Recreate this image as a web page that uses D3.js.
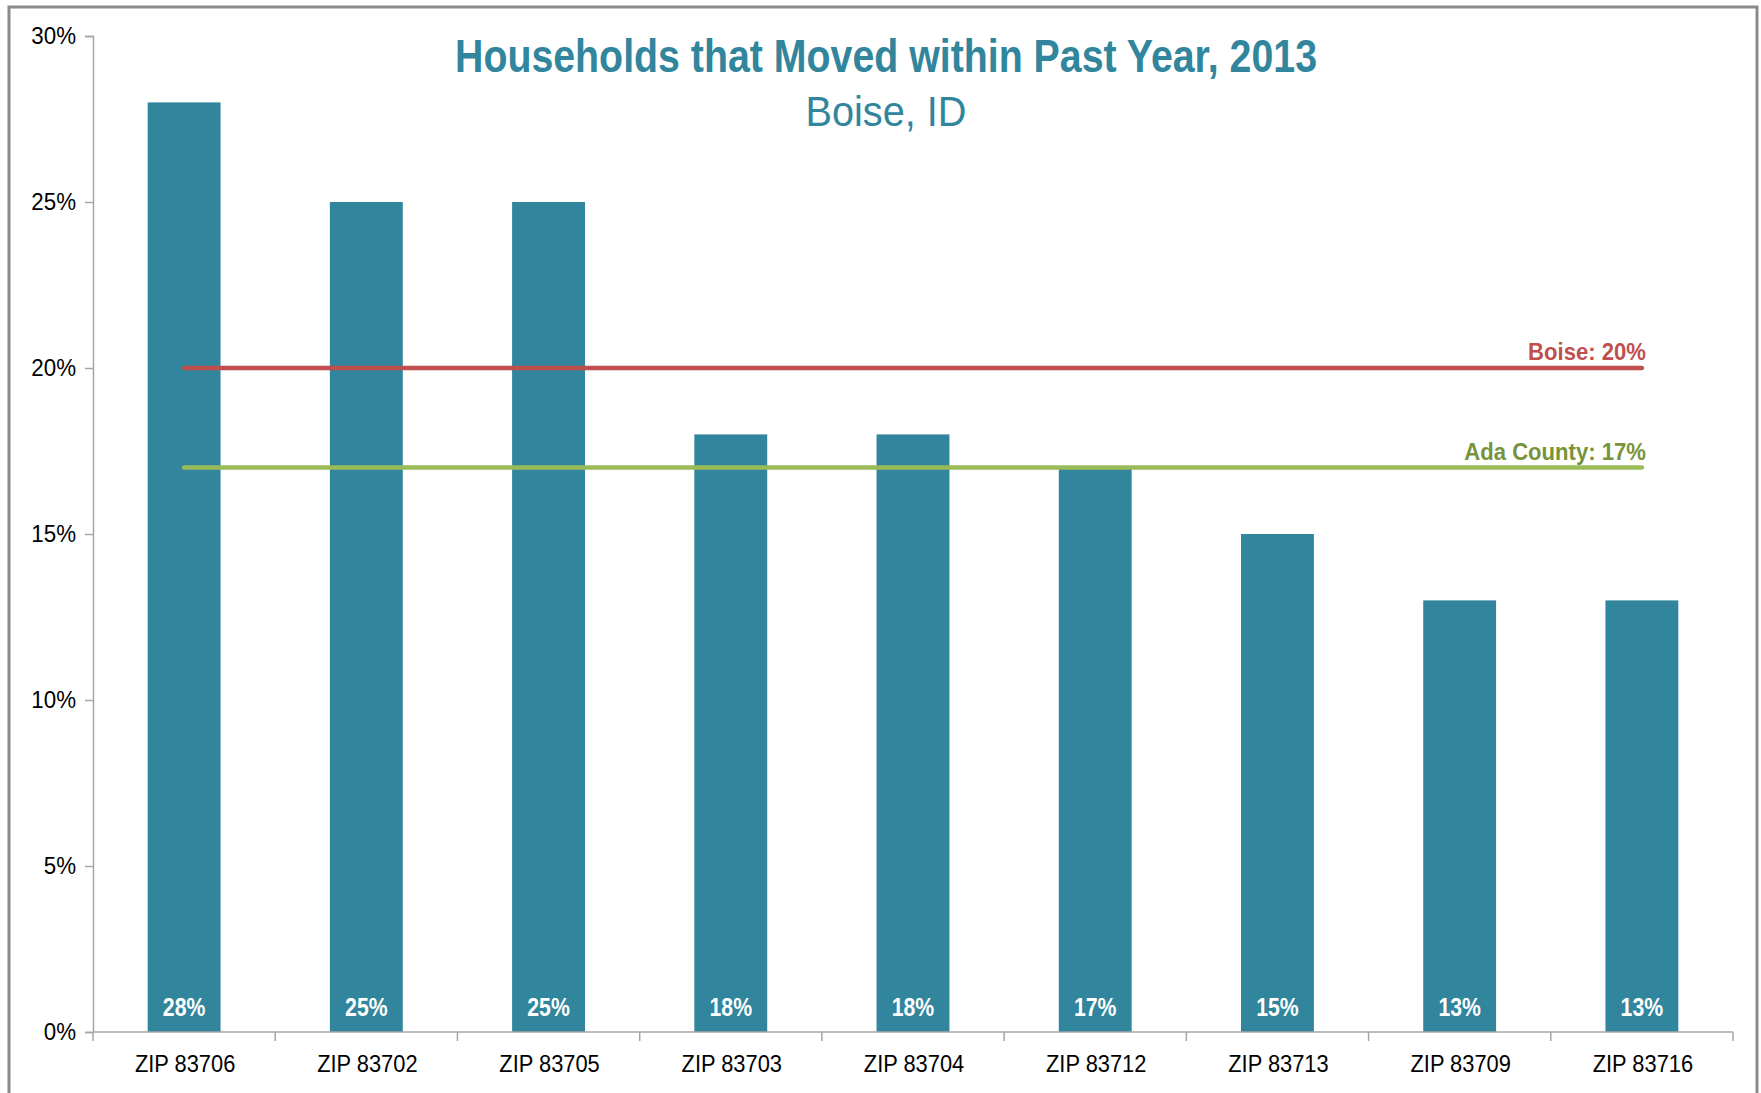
<!DOCTYPE html>
<html>
<head>
<meta charset="utf-8">
<script src="https://cdn.jsdelivr.net/npm/d3@7"></script>
<style>
  body { margin: 0; background: #fff; }
  text { font-family: "Liberation Sans", Arial, sans-serif; }
</style>
</head>
<body>
<svg id="chart"></svg>
<script>
var categories = ["ZIP 83706", "ZIP 83702", "ZIP 83705", "ZIP 83703", "ZIP 83704", "ZIP 83712", "ZIP 83713", "ZIP 83709", "ZIP 83716"];
var values = [28, 25, 25, 18, 18, 17, 15, 13, 13];
var yTicks = [0, 5, 10, 15, 20, 25, 30];
var refLines = [
    {label: "Boise: 20%", value: 20},
    {label: "Ada County: 17%", value: 17}
];
var refColors = [["#C0504D", "#C0504D"], ["#9BBB59", "#77933C"]];

var W = 1761, H = 1093;
var margin = {left: 93, right: 28, top: 36, bottom: 61};

var svg = d3.select("#chart").attr("width", W).attr("height", H);

// no narrow font here, so squeeze the glyphs sideways
function squeeze(sel, k){
    sel.each(function(){
        var w = this.getComputedTextLength();
        d3.select(this).attr("textLength", w * k).attr("lengthAdjust", "spacingAndGlyphs");
    });
}

// frame
svg.append("rect")
    .attr("x", 9).attr("y", 7)
    .attr("width", 1748).attr("height", 1100)
    .attr("fill", "#fff")
    .attr("stroke", "#8a8a8a")
    .attr("stroke-width", 3);

var x = d3.scaleBand()
    .domain(categories)
    .range([margin.left, W - margin.right])
    .paddingInner(0.6)
    .paddingOuter(0.3);

var y = d3.scaleLinear()
    .domain([0, 30])
    .range([H - margin.bottom, margin.top]);

// bars
svg.selectAll("rect.bar")
    .data(values)
    .enter().append("rect")
    .attr("class", "bar")
    .attr("x", function(d,i){ return x(categories[i]); })
    .attr("y", function(d){ return y(d); })
    .attr("width", x.bandwidth())
    .attr("height", function(d){ return y(0) - y(d); })
    .attr("fill", "#31859C");

// value labels inside bars
svg.selectAll("text.val")
    .data(values)
    .enter().append("text")
    .attr("class", "val")
    .attr("x", function(d,i){ return x(categories[i]) + x.bandwidth()/2; })
    .attr("y", y(0) - 16)
    .attr("text-anchor", "middle")
    .attr("font-size", 25)
    .attr("font-weight", "bold")
    .attr("fill", "#fff")
    .text(function(d){ return d + "%"; })
    .call(squeeze, 0.85);

// y axis
var yAxis = d3.axisLeft(y)
    .tickValues(yTicks)
    .tickSize(8)
    .tickPadding(9)
    .tickFormat(function(d){ return d + "%"; });
var gy = svg.append("g")
    .attr("transform", "translate(" + margin.left + ",0)")
    .call(yAxis);
gy.select(".domain").attr("stroke", "#a6a6a6").attr("stroke-width", 1.5);
gy.selectAll(".tick line").attr("stroke", "#a6a6a6").attr("stroke-width", 1.5);
gy.selectAll(".tick text")
    .attr("font-size", 24)
    .attr("fill", "#000")
    .style("font-family", "'Liberation Sans', Arial, sans-serif")
    .call(squeeze, 0.93);

// x axis: ticks at category boundaries
var bounds = d3.range(categories.length + 1).map(function(i){ return margin.left + i * (W - margin.left - margin.right) / categories.length; });
var gx = svg.append("g");
gx.append("line")
    .attr("x1", margin.left).attr("x2", W - margin.right)
    .attr("y1", y(0)).attr("y2", y(0))
    .attr("stroke", "#a6a6a6").attr("stroke-width", 1.5);
gx.selectAll("line.tk")
    .data(bounds)
    .enter().append("line")
    .attr("class", "tk")
    .attr("x1", function(d){ return d; }).attr("x2", function(d){ return d; })
    .attr("y1", y(0)).attr("y2", y(0) + 9)
    .attr("stroke", "#a6a6a6").attr("stroke-width", 1.5);
gx.selectAll("text")
    .data(categories)
    .enter().append("text")
    .attr("x", function(d){ return x(d) + x.bandwidth()/2 + 1; })
    .attr("y", y(0) + 40)
    .attr("text-anchor", "middle")
    .attr("font-size", 24)
    .attr("fill", "#000")
    .text(function(d){ return d; })
    .call(squeeze, 0.91);

// reference lines
var x0 = x(categories[0]) + x.bandwidth()/2;
var x1 = x(categories[categories.length-1]) + x.bandwidth()/2;
refLines.forEach(function(r, i){
    svg.append("line")
        .attr("x1", x0).attr("x2", x1)
        .attr("y1", y(r.value)).attr("y2", y(r.value))
        .attr("stroke", refColors[i][0])
        .attr("stroke-width", 4.5)
        .attr("stroke-linecap", "round");
    svg.append("text")
        .attr("x", x1 + 4)
        .attr("y", y(r.value) - 8)
        .attr("text-anchor", "end")
        .attr("font-size", 24)
        .attr("font-weight", "bold")
        .attr("fill", refColors[i][1])
        .text(r.label)
        .call(squeeze, 0.92);
});

// titles
svg.append("text")
    .attr("x", 886).attr("y", 72)
    .attr("text-anchor", "middle")
    .attr("font-size", 46)
    .attr("font-weight", "bold")
    .attr("fill", "#31859C")
    .text("Households that Moved within Past Year, 2013")
    .attr("textLength", 862)
    .attr("lengthAdjust", "spacingAndGlyphs");
svg.append("text")
    .attr("x", 886).attr("y", 126)
    .attr("text-anchor", "middle")
    .attr("font-size", 43)
    .attr("fill", "#31859C")
    .text("Boise, ID")
    .attr("textLength", 161)
    .attr("lengthAdjust", "spacingAndGlyphs");
</script>
</body>
</html>
